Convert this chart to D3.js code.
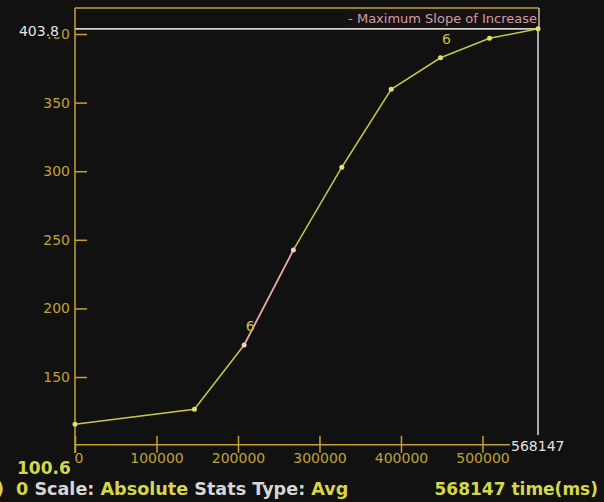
<!DOCTYPE html>
<html><head><meta charset="utf-8">
<script src="https://cdn.jsdelivr.net/npm/d3@7"></script>
<style>html,body{margin:0;padding:0;background:#111111;overflow:hidden}</style>
</head><body>
<svg id="c" width="604" height="502"></svg>
<script>
const timesMs = [0, 146500, 207500, 268000, 327400, 388000, 448500, 508700, 568147];
const avgValues = [115.5, 126.5, 173.3, 242.6, 302.9, 359.7, 382.7, 396.9, 403.8];
const xTicks = [0, 100000, 200000, 300000, 400000, 500000];
const yTicks = [150, 200, 250, 300, 350, 400];
const yMin = 100.6, yMax = 403.8, xMax = 568147;
const maxSlopeIdx = [2, 3];
const pointLabels = [{i: 2, t: "6"}, {i: 6, t: "6"}];
const legendText = "- Maximum Slope of Increase";

const svg = d3.select("#c");
const W = 604, H = 502;
const L = 75, R = 538, T = 28.8, B = 444.8;
const x = d3.scaleLinear().domain([0, xMax]).range([L, R]);
const y = d3.scaleLinear().domain([yMin, yMax]).range([B, T]);
const axisCol = "#c2a232", tickText = "#c0a236", lineCol = "#c8c646", white = "#d6d6d6";
const font = "DejaVu Sans";
const bg = "#111111";

svg.append("rect").attr("width", W).attr("height", H).attr("fill", bg);

// legend box
svg.append("rect").attr("x", 344).attr("y", 8).attr("width", R - 344).attr("height", T - 8)
  .attr("fill", "#171212");
svg.append("text").attr("x", R - 1).attr("y", 22.5).attr("text-anchor", "end")
  .attr("font-family", font).attr("font-size", 13).attr("fill", "#d29aa8").text(legendText);

// frame top
svg.append("line").attr("x1", L).attr("x2", R + 1).attr("y1", 8).attr("y2", 8)
  .attr("stroke", axisCol).attr("stroke-width", 1.5);
svg.append("line").attr("x1", R + 1).attr("x2", R + 1).attr("y1", 8).attr("y2", T)
  .attr("stroke", "#bbbbbb").attr("stroke-width", 1.5);

// max lines
svg.append("line").attr("x1", L).attr("x2", x(xMax)).attr("y1", y(yMax)).attr("y2", y(yMax))
  .attr("stroke", "#cfcfcf").attr("stroke-width", 1.8);
svg.append("line").attr("x1", x(xMax)).attr("x2", x(xMax)).attr("y1", y(yMax)).attr("y2", 435)
  .attr("stroke", "#bdbdbd").attr("stroke-width", 1.8);

// y axis
const yAxis = d3.axisRight(y).tickValues(yTicks).tickSize(12).tickFormat(d3.format("d"));
const gy = svg.append("g").attr("transform", `translate(${L},0)`).call(yAxis);
gy.select(".domain").remove();
gy.selectAll(".tick line").attr("stroke", axisCol).attr("stroke-width", 1.5);
gy.selectAll(".tick text").attr("x", -5).attr("text-anchor", "end").attr("fill", tickText)
  .attr("font-family", font).attr("font-size", 14);
svg.append("line").attr("x1", L).attr("x2", L).attr("y1", 8).attr("y2", 453)
  .attr("stroke", axisCol).attr("stroke-width", 1.5);

// x axis
const xAxis = d3.axisBottom(x).tickValues(xTicks).tickSize(0).tickFormat(d3.format("d"));
const gx = svg.append("g").attr("transform", `translate(0,${B})`).call(xAxis);
gx.select(".domain").remove();
gx.selectAll(".tick text").attr("y", 14).attr("dy", "0.32em").attr("fill", tickText)
  .attr("font-family", font).attr("font-size", 14);
gx.selectAll(".tick").filter(d => d === 0).select("text").attr("text-anchor", "start").attr("x", -1);
gx.selectAll(".tick").append("line").attr("y1", -9).attr("y2", 8)
  .attr("stroke", axisCol).attr("stroke-width", 1.5);
svg.append("line").attr("x1", L).attr("x2", 510).attr("y1", B).attr("y2", B)
  .attr("stroke", axisCol).attr("stroke-width", 1.5);

// extreme labels (with background covering what lies beneath)
svg.append("rect").attr("x", 16).attr("y", 24).attr("width", 46).attr("height", 13).attr("fill", bg);
svg.append("text").attr("x", 59).attr("y", y(yMax) + 3).attr("dy", "0.32em").attr("text-anchor", "end")
  .attr("font-family", font).attr("font-size", 14).attr("fill", "#e2e2e2").text("403.8");
svg.append("text").attr("x", 511).attr("y", 447).attr("dy", "0.32em")
  .attr("font-family", font).attr("font-size", 14).attr("fill", "#e2e2e2").text(d3.format("d")(xMax));

// data line
const pts = timesMs.map((t, i) => ({t, v: avgValues[i], i}));
const line = d3.line().x(d => x(d.t)).y(d => y(d.v));
svg.append("path").datum(pts).attr("d", line).attr("fill", "none")
  .attr("stroke", lineCol).attr("stroke-width", 1.5);
svg.append("path").datum(pts.slice(maxSlopeIdx[0], maxSlopeIdx[1] + 1)).attr("d", line)
  .attr("fill", "none").attr("stroke", "#e0a4a4").attr("stroke-width", 1.6);
svg.selectAll("circle.p").data(pts).enter().append("circle")
  .attr("cx", d => x(d.t)).attr("cy", d => y(d.v)).attr("r", 2.5)
  .attr("fill", d => maxSlopeIdx.includes(d.i) ? "#f2cccc" : "#e2e262");

// point labels
svg.selectAll("text.pl").data(pointLabels).enter().append("text")
  .attr("x", d => x(timesMs[d.i]) + 6).attr("y", d => y(avgValues[d.i]) - 19).attr("dy", "0.35em")
  .attr("text-anchor", "middle").attr("font-family", font).attr("font-size", 14)
  .attr("fill", "#c8c040").text(d => d.t);

// bottom texts
const yel = "#d6d64a";
svg.append("text").attr("x", 17).attr("y", 474).attr("font-family", font).attr("font-weight", "bold")
  .attr("font-size", 17).attr("fill", yel).text(d3.format(".1f")(yMin));
svg.append("text").attr("x", 4).attr("y", 495).attr("text-anchor", "end").attr("font-family", font)
  .attr("font-weight", "bold").attr("font-size", 17.6).attr("fill", yel).text(")");
const bt = svg.append("text").attr("x", 16).attr("y", 495).attr("font-family", font)
  .attr("font-weight", "bold").attr("font-size", 17.6);
[["0 ", yel], ["Scale: ", white], ["Absolute ", yel], ["Stats Type: ", white], ["Avg", yel]]
  .forEach(([s, c]) => bt.append("tspan").attr("fill", c).text(s));
svg.append("text").attr("x", 598).attr("y", 495).attr("text-anchor", "end").attr("font-family", font)
  .attr("font-weight", "bold").attr("font-size", 17).attr("fill", yel).text(d3.format("d")(xMax) + " time(ms)");
</script>
</body></html>
